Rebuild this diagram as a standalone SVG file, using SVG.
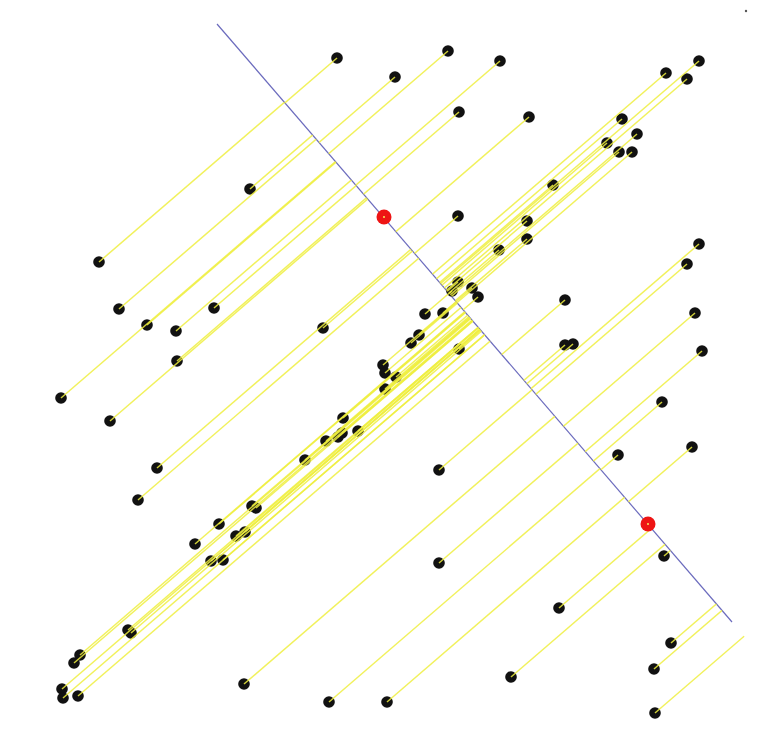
<svg xmlns="http://www.w3.org/2000/svg" width="767" height="740" viewBox="0 0 767 740">
<style>
.pt{fill:#111111}
.ctr{fill:#ee1414}
.ll path,.ur path{fill:none;stroke:#eeee40;stroke-width:1.5;stroke-opacity:0.85}
.axis{stroke:#6b6bbd;stroke-width:1.2}
</style>
<defs>
<clipPath id="clipLL"><polygon points="-813,-1172 1762,1818 -3000,1818 -3000,-1172"/></clipPath>
<clipPath id="clipUR"><polygon points="-813,-1172 1762,1818 3000,1818 3000,-1172"/></clipPath>
</defs>
<rect width="767" height="740" fill="#ffffff"/>
<line id="axis" class="axis" x1="217" y1="24" x2="732" y2="622"/>
<g id="points">
<circle class="pt" cx="337" cy="58" r="5.8"/>
<circle class="pt" cx="395" cy="77" r="5.8"/>
<circle class="pt" cx="448" cy="51" r="5.8"/>
<circle class="pt" cx="500" cy="61" r="5.8"/>
<circle class="pt" cx="666" cy="73" r="5.8"/>
<circle class="pt" cx="699" cy="61" r="5.8"/>
<circle class="pt" cx="687" cy="79" r="5.8"/>
<circle class="pt" cx="459" cy="112" r="5.8"/>
<circle class="pt" cx="529" cy="117" r="5.8"/>
<circle class="pt" cx="622" cy="119" r="5.8"/>
<circle class="pt" cx="637" cy="134" r="5.8"/>
<circle class="pt" cx="607" cy="143" r="5.8"/>
<circle class="pt" cx="619" cy="152" r="5.8"/>
<circle class="pt" cx="632" cy="152" r="5.8"/>
<circle class="pt" cx="553" cy="185" r="5.8"/>
<circle class="pt" cx="458" cy="216" r="5.8"/>
<circle class="pt" cx="527" cy="221" r="5.8"/>
<circle class="pt" cx="527" cy="239" r="5.8"/>
<circle class="pt" cx="499" cy="250" r="5.8"/>
<circle class="pt" cx="699" cy="244" r="5.8"/>
<circle class="pt" cx="687" cy="264" r="5.8"/>
<circle class="pt" cx="458" cy="282" r="5.8"/>
<circle class="pt" cx="452" cy="291" r="5.8"/>
<circle class="pt" cx="472" cy="288" r="5.8"/>
<circle class="pt" cx="478" cy="297" r="5.8"/>
<circle class="pt" cx="565" cy="300" r="5.8"/>
<circle class="pt" cx="565" cy="345" r="5.8"/>
<circle class="pt" cx="573" cy="344" r="5.8"/>
<circle class="pt" cx="695" cy="313" r="5.8"/>
<circle class="pt" cx="702" cy="351" r="5.8"/>
<circle class="pt" cx="662" cy="402" r="5.8"/>
<circle class="pt" cx="692" cy="447" r="5.8"/>
<circle class="pt" cx="618" cy="455" r="5.8"/>
<circle class="pt" cx="664" cy="556" r="5.8"/>
<circle class="pt" cx="671" cy="643" r="5.8"/>
<circle class="pt" cx="654" cy="669" r="5.8"/>
<circle class="pt" cx="655" cy="713" r="5.8"/>
<circle class="pt" cx="250" cy="189" r="5.8"/>
<circle class="pt" cx="99" cy="262" r="5.8"/>
<circle class="pt" cx="119" cy="309" r="5.8"/>
<circle class="pt" cx="147" cy="325" r="5.8"/>
<circle class="pt" cx="176" cy="331" r="5.8"/>
<circle class="pt" cx="214" cy="308" r="5.8"/>
<circle class="pt" cx="177" cy="361" r="5.8"/>
<circle class="pt" cx="323" cy="328" r="5.8"/>
<circle class="pt" cx="61" cy="398" r="5.8"/>
<circle class="pt" cx="110" cy="421" r="5.8"/>
<circle class="pt" cx="157" cy="468" r="5.8"/>
<circle class="pt" cx="138" cy="500" r="5.8"/>
<circle class="pt" cx="425" cy="314" r="5.8"/>
<circle class="pt" cx="443" cy="313" r="5.8"/>
<circle class="pt" cx="419" cy="335" r="5.8"/>
<circle class="pt" cx="411" cy="343" r="5.8"/>
<circle class="pt" cx="459" cy="349" r="5.8"/>
<circle class="pt" cx="383" cy="365" r="5.8"/>
<circle class="pt" cx="385" cy="373" r="5.8"/>
<circle class="pt" cx="396" cy="377" r="5.8"/>
<circle class="pt" cx="385" cy="389" r="5.8"/>
<circle class="pt" cx="343" cy="418" r="5.8"/>
<circle class="pt" cx="342" cy="433" r="5.8"/>
<circle class="pt" cx="338" cy="437" r="5.8"/>
<circle class="pt" cx="358" cy="431" r="5.8"/>
<circle class="pt" cx="326" cy="441" r="5.8"/>
<circle class="pt" cx="305" cy="460" r="5.8"/>
<circle class="pt" cx="439" cy="470" r="5.8"/>
<circle class="pt" cx="252" cy="506" r="5.8"/>
<circle class="pt" cx="256" cy="508" r="5.8"/>
<circle class="pt" cx="219" cy="524" r="5.8"/>
<circle class="pt" cx="195" cy="544" r="5.8"/>
<circle class="pt" cx="236" cy="536" r="5.8"/>
<circle class="pt" cx="245" cy="532" r="5.8"/>
<circle class="pt" cx="211" cy="561" r="5.8"/>
<circle class="pt" cx="223" cy="560" r="5.8"/>
<circle class="pt" cx="439" cy="563" r="5.8"/>
<circle class="pt" cx="559" cy="608" r="5.8"/>
<circle class="pt" cx="128" cy="630" r="5.8"/>
<circle class="pt" cx="131" cy="633" r="5.8"/>
<circle class="pt" cx="80" cy="655" r="5.8"/>
<circle class="pt" cx="74" cy="663" r="5.8"/>
<circle class="pt" cx="62" cy="689" r="5.8"/>
<circle class="pt" cx="63" cy="698" r="5.8"/>
<circle class="pt" cx="78" cy="696" r="5.8"/>
<circle class="pt" cx="244" cy="684" r="5.8"/>
<circle class="pt" cx="329" cy="702" r="5.8"/>
<circle class="pt" cx="387" cy="702" r="5.8"/>
<circle class="pt" cx="511" cy="677" r="5.8"/>
</g>
<g id="connectors">
<g class="ur" clip-path="url(#clipUR)">
<path d="M337 58l-598 515"/><path d="M395 77l-598 515"/><path d="M448 51l-598 515"/><path d="M500 61l-598 515"/>
<path d="M666 73l-598 515"/><path d="M699 61l-598 515"/><path d="M687 79l-598 515"/><path d="M459 112l-598 515"/>
<path d="M529 117l-598 515"/><path d="M622 119l-598 515"/><path d="M637 134l-598 515"/><path d="M607 143l-598 515"/>
<path d="M619 152l-598 515"/><path d="M632 152l-598 515"/><path d="M553 185l-598 515"/><path d="M458 216l-598 515"/>
<path d="M527 221l-598 515"/><path d="M527 239l-598 515"/><path d="M499 250l-598 515"/><path d="M699 244l-598 515"/>
<path d="M687 264l-598 515"/><path d="M458 282l-598 515"/><path d="M452 291l-598 515"/><path d="M472 288l-598 515"/>
<path d="M478 297l-598 515"/><path d="M565 300l-598 515"/><path d="M565 345l-598 515"/><path d="M573 344l-598 515"/>
<path d="M695 313l-598 515"/><path d="M702 351l-598 515"/><path d="M662 402l-598 515"/><path d="M692 447l-598 515"/>
<path d="M618 455l-598 515"/>
</g>
<g class="ll" clip-path="url(#clipLL)">
<path d="M664 556l598-515"/><path d="M671 643l598-515"/><path d="M654 669l598-515"/><path d="M655 713l598-515"/>
<path d="M250 189l598-515"/><path d="M99 262l598-515"/><path d="M119 309l598-515"/><path d="M147 325l598-515"/>
<path d="M176 331l598-515"/><path d="M214 308l598-515"/><path d="M177 361l598-515"/><path d="M323 328l598-515"/>
<path d="M61 398l598-515"/><path d="M110 421l598-515"/><path d="M157 468l598-515"/><path d="M138 500l598-515"/>
<path d="M425 314l598-515"/><path d="M443 313l598-515"/><path d="M419 335l598-515"/><path d="M411 343l598-515"/>
<path d="M459 349l598-515"/><path d="M383 365l598-515"/><path d="M385 373l598-515"/><path d="M396 377l598-515"/>
<path d="M385 389l598-515"/><path d="M343 418l598-515"/><path d="M342 433l598-515"/><path d="M338 437l598-515"/>
<path d="M358 431l598-515"/><path d="M326 441l598-515"/><path d="M305 460l598-515"/><path d="M439 470l598-515"/>
<path d="M252 506l598-515"/><path d="M256 508l598-515"/><path d="M219 524l598-515"/><path d="M195 544l598-515"/>
<path d="M236 536l598-515"/><path d="M245 532l598-515"/><path d="M211 561l598-515"/><path d="M223 560l598-515"/>
<path d="M439 563l598-515"/><path d="M559 608l598-515"/><path d="M128 630l598-515"/><path d="M131 633l598-515"/>
<path d="M80 655l598-515"/><path d="M74 663l598-515"/><path d="M62 689l598-515"/><path d="M63 698l598-515"/>
<path d="M78 696l598-515"/><path d="M244 684l598-515"/><path d="M329 702l598-515"/><path d="M387 702l598-515"/>
<path d="M511 677l598-515"/>
</g>
</g>
<g id="centers">
<circle id="c1" class="ctr" cx="384" cy="217" r="7.5"/>
<circle id="c2" class="ctr" cx="648" cy="524" r="7.5"/>
<circle cx="384" cy="217" r="1" fill="#f0f060"/>
<circle cx="648" cy="524" r="1" fill="#f0f060"/>
</g>
<circle id="speck" cx="746" cy="11" r="1.2" fill="#555555"/>
</svg>
